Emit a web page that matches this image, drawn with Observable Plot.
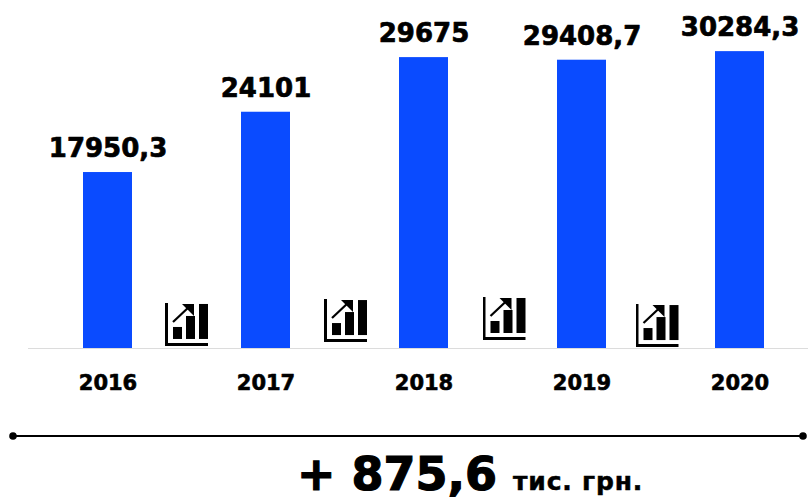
<!DOCTYPE html>
<html><head><meta charset="utf-8">
<script src="https://cdn.jsdelivr.net/npm/d3@7"></script>
<script src="https://cdn.jsdelivr.net/npm/@observablehq/plot@0.6"></script>
<style>
html,body{margin:0;padding:0;background:#fff;overflow:hidden}
#wrap{position:relative;width:808px;height:497px}
</style></head><body><div id="wrap"></div>
<script>
const years = ["2016","2017","2018","2019","2020"];
const values = [17950.3,24101,29675,29408.7,30284.3];
const labels = ["17950,3","24101","29675","29408,7","30284,3"];
const iconYears = ["2016","2017","2018","2019"];
const iconShift = [79,80,80.5,75.5];
const iconLevels = [2400,2800,3010,2290];
const summaryX = [13,803];
const summary = ["+ 875,6","тис. грн."];

const data = years.map((y,i)=>({year:y,value:values[i],label:labels[i]}));
const iconSvg = `<svg xmlns="http://www.w3.org/2000/svg" viewBox="0 0 44 44"><path d="M1.5 0V41.5H43" fill="none" stroke="#000" stroke-width="3"/><rect x="8" y="24" width="9" height="12"/><rect x="21" y="13" width="9" height="23"/><rect x="34" y="1" width="9" height="35"/><path d="M8 19L25 3" stroke="#000" stroke-width="2.2" fill="none"/><path d="M17 1H29V13Z"/></svg>`;
const iconHref = "data:image/svg+xml;base64," + btoa(iconSvg);
const font = "'DejaVu Sans',sans-serif";

const chart = Plot.plot({
  width:808, height:497,
  marginTop:0, marginBottom:149, marginLeft:28, marginRight:0,
  style:{background:"#fff",fontFamily:font},
  x:{domain:years, range:[28,820], paddingInner:0.6875, paddingOuter:0.34375, align:0.5, axis:null},
  y:{domain:[0,35500], range:[348,0], axis:null},
  marks:[
    Plot.barY(data,{x:"year",y:"value",fill:"#0a4bff"}),
    Plot.ruleY([0],{stroke:"#dcdcdc",strokeWidth:1}),
    Plot.text(data,{x:"year",y:"value",text:"label",dy:-24,fontSize:26,fontWeight:700,fill:"#000",stroke:"#000",strokeWidth:0.7}),
    Plot.text(data,{x:"year",frameAnchor:"bottom",text:"year",dy:41,fontSize:21,fontWeight:700,fill:"#000",stroke:"#000",strokeWidth:0.6}),
    ...iconYears.map((y,i)=>Plot.image([{year:y,level:iconLevels[i]}],{x:"year",y:"level",dx:iconShift[i],src:()=>iconHref,width:44,height:44}))
  ]
});
document.getElementById("wrap").appendChild(chart);

const bottom = d3.select(chart).append("g");
bottom.append("line").attr("x1",summaryX[0]).attr("x2",summaryX[1]).attr("y1",436).attr("y2",436).attr("stroke","#000").attr("stroke-width",2);
summaryX.forEach(x=>bottom.append("circle").attr("cx",x).attr("cy",436).attr("r",3.8).attr("fill","#000"));
const t = bottom.append("text").attr("x",297).attr("y",490).attr("text-anchor","start").attr("font-weight",700).attr("fill","#000").attr("stroke","#000").attr("font-family",font);
t.append("tspan").attr("font-size",46).attr("stroke-width",1.2).text(summary[0]);
t.append("tspan").attr("font-size",25).attr("stroke-width",0.5).attr("dx",16).attr("letter-spacing",0.8).text(summary[1]);
</script></body></html>
